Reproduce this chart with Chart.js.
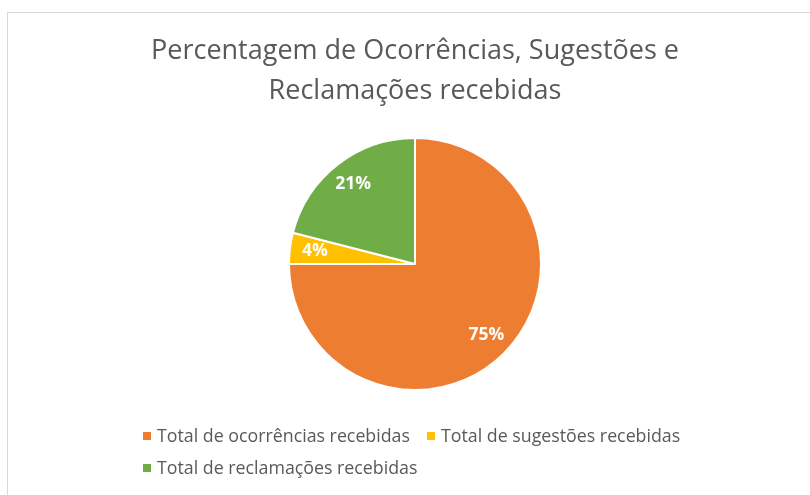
<!DOCTYPE html>
<html>
<head>
<meta charset="utf-8">
<script src="https://cdn.jsdelivr.net/npm/chart.js@4"></script>
<style>
  html, body { margin: 0; padding: 0; background: #fff; }
  #wrap { position: relative; width: 810px; height: 495px; overflow: hidden; }
  #frame { position: absolute; left: 7px; top: 12px; width: 900px; height: 600px; border: 1.5px solid #d9d9d9; box-sizing: border-box; }
  canvas { position: absolute; left: 0; top: 0; }
</style>
</head>
<body>
<div id="wrap">
  <div id="frame"></div>
  <canvas id="pie" width="810" height="495"></canvas>
</div>
<script>
  // Data
  const titleLines = ['Percentagem de Ocorrências, Sugestões e', 'Reclamações recebidas'];
  const categories = ['Total de ocorrências recebidas', 'Total de sugestões recebidas', 'Total de reclamações recebidas'];
  const values = [75, 4, 21];
  const colors = ['#ED7D31', '#FFC000', '#70AD47'];

  const textColor = '#595959';
  const fontFamily = '"Open Sans", "Noto Sans", sans-serif';

  // Percent labels inside the slices
  const sliceLabels = {
    id: 'sliceLabels',
    afterDatasetsDraw(chart) {
      const ctx = chart.ctx;
      const meta = chart.getDatasetMeta(0);
      const total = values.reduce((a, b) => a + b, 0);
      ctx.save();
      ctx.fillStyle = '#fff';
      ctx.font = 'bold 17.5px ' + fontFamily;
      ctx.textAlign = 'center';
      ctx.textBaseline = 'middle';
      meta.data.forEach((arc, i) => {
        const p = arc.getProps(['x', 'y', 'startAngle', 'endAngle', 'outerRadius']);
        const mid = (p.startAngle + p.endAngle) / 2;
        const r = p.outerRadius * 0.8;
        const pct = Math.round(values[i] / total * 100) + '%';
        ctx.fillText(pct, p.x + Math.cos(mid) * r, p.y + Math.sin(mid) * r);
      });
      ctx.restore();
    }
  };

  // Excel-like legend, rows left aligned
  const bottomLegend = {
    id: 'bottomLegend',
    afterDraw(chart) {
      const ctx = chart.ctx;
      ctx.save();
      ctx.font = '17.8px ' + fontFamily;
      ctx.textBaseline = 'middle';
      const startX = 143, maxX = 720, box = 8, gap = 6, spacing = 17;
      let x = startX, y = 436;
      categories.forEach((label, i) => {
        const w = box + gap + ctx.measureText(label).width;
        if (x > startX && x + w > maxX) { x = startX; y += 32; }
        ctx.fillStyle = colors[i];
        ctx.fillRect(x, y - box / 2, box, box);
        ctx.fillStyle = textColor;
        ctx.fillText(label, x + box + gap, y + 1);
        x += w + spacing;
      });
      ctx.restore();
    }
  };

  new Chart(document.getElementById('pie'), {
    type: 'pie',
    data: {
      labels: categories,
      datasets: [{
        data: values,
        backgroundColor: colors,
        borderColor: '#fff',
        borderWidth: 2
      }]
    },
    options: {
      responsive: false,
      animation: false,
      layout: { padding: { left: 20, right: 0, top: 0, bottom: 104 } },
      plugins: {
        legend: { display: false },
        tooltip: { enabled: false },
        title: {
          display: true,
          text: titleLines,
          color: textColor,
          font: { family: fontFamily, size: 27, weight: 'normal', lineHeight: 1.5 },
          padding: { top: 31, bottom: 25 }
        }
      }
    },
    plugins: [sliceLabels, bottomLegend]
  });
</script>
</body>
</html>
